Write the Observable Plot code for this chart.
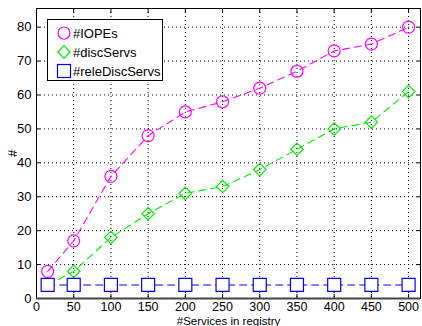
<!DOCTYPE html>
<html><head><meta charset="utf-8">
<script src="https://cdn.jsdelivr.net/npm/d3@7"></script>
<script src="https://cdn.jsdelivr.net/npm/@observablehq/plot@0.6"></script>
<style>
body{margin:0;background:#fff;font-family:"Liberation Sans",Arial,sans-serif;}
#wrap{position:relative;width:422px;height:326px;}
#legend{position:absolute;left:47px;top:19px;width:114px;height:60px;background:#fff;border:1px solid #000;font-size:13px;}
#legend .row{position:absolute;left:8px;height:14px;display:flex;align-items:center;}
#legend svg{width:16px;height:16px;margin-right:1px;overflow:visible}
</style></head><body>
<div id="wrap"></div>
<script>
const services = [15, 50, 100, 150, 200, 250, 300, 350, 400, 450, 500];
const iopes = [8, 17, 36, 48, 55, 58, 62, 67, 73, 75, 80];
const discServs = [4, 8, 18, 25, 31, 33, 38, 44, 50, 52, 61];
const releDiscServs = [4, 4, 4, 4, 4, 4, 4, 4, 4, 4, 4];
const seriesNames = ["#IOPEs", "#discServs", "#releDiscServs"];
const xTicks = [0, 50, 100, 150, 200, 250, 300, 350, 400, 450, 500];
const yTicks = [0, 10, 20, 30, 40, 50, 60, 70, 80];

const colors = ["#ff00ff", "#00ee00", "#0000ff"];
const half = size => Math.sqrt(size / Math.PI);
const circleSym = {draw(ctx, size){const r = half(size); ctx.moveTo(r,0); ctx.arc(0,0,r,0,2*Math.PI); ctx.closePath();}};
const diamondSym = {draw(ctx, size){const r = half(size); ctx.moveTo(0,-r); ctx.lineTo(r,0); ctx.lineTo(0,r); ctx.lineTo(-r,0); ctx.closePath();}};
const squareSym = {draw(ctx, size){const r = half(size); ctx.rect(-r,-r,2*r,2*r);}};
const syms = [circleSym, diamondSym, squareSym];
const radii = [6, 6.2, 6.5];
const fills = ["none", "none", "#fff"];

const allSeries = [iopes, discServs, releDiscServs];
const table = allSeries.flatMap((vals, s) => vals.map((v, i) => ({x: services[i], y: v, s})));

const marks = [
  Plot.gridX(xTicks, {stroke: "#000", strokeOpacity: 1, strokeDasharray: "1,3"}),
  Plot.gridY(yTicks, {stroke: "#000", strokeOpacity: 1, strokeDasharray: "1,3"}),
  Plot.axisX(xTicks, {anchor: "bottom", tickSize: 0, tickPadding: 4, fontSize: 12.5, label: null}),
  Plot.axisX({anchor: "bottom", ticks: [], tickSize: 0, label: "#Services in registry", labelAnchor: "center", labelArrow: "none", labelOffset: 26.5, fontSize: 11.5}),
  Plot.axisY(yTicks, {anchor: "left", tickSize: 0, tickPadding: 5, fontSize: 13, label: "#", labelAnchor: "center", labelArrow: "none", labelOffset: 29}),
  Plot.axisX(xTicks, {anchor: "bottom", tickSize: -4, text: null, label: null}),
  Plot.axisX(xTicks, {anchor: "top", tickSize: -4, text: null, label: null}),
  Plot.axisY(yTicks, {anchor: "left", tickSize: -4, text: null, label: null}),
  Plot.axisY(yTicks, {anchor: "right", tickSize: -4, text: null, label: null}),
];
allSeries.forEach((vals, s) => {
  const d = table.filter(r => r.s === s);
  marks.push(Plot.line(d, {x: "x", y: "y", stroke: colors[s], strokeWidth: 1.1, strokeDasharray: "7,5"}));
});
allSeries.forEach((vals, s) => {
  const d = table.filter(r => r.s === s);
  marks.push(Plot.dot(d, {x: "x", y: "y", stroke: colors[s], fill: fills[s], strokeWidth: 1.2, r: radii[s], symbol: syms[s]}));
});
marks.push(Plot.frame({stroke: "#000"}));
marks.push(Plot.ruleY([0], {stroke: "#444", strokeWidth: 2}));

const chart = Plot.plot({
  width: 422, height: 326,
  marginTop: 8, marginRight: 2, marginBottom: 28, marginLeft: 36,
  style: {fontFamily: "Liberation Sans, Arial, sans-serif", fontSize: "13px", color: "#000", background: "#fff"},
  x: {domain: [0, 516]},
  y: {domain: [0, 85.5]},
  marks
});
const wrap = document.getElementById("wrap");
wrap.appendChild(chart);

// legend
const leg = document.createElement("div");
leg.id = "legend";
const shapes = [
  `<circle cx="8" cy="8" r="6" fill="none" stroke="${colors[0]}" stroke-width="1.2"/>`,
  `<path d="M8,1.8L14.2,8L8,14.2L1.8,8Z" fill="none" stroke="${colors[1]}" stroke-width="1.2"/>`,
  `<rect x="1.5" y="1.5" width="13" height="13" fill="none" stroke="${colors[2]}" stroke-width="1.2"/>`
];
seriesNames.forEach((n, i) => {
  const row = document.createElement("div");
  row.className = "row";
  row.style.top = (6 + i * 19) + "px";
  row.innerHTML = `<svg viewBox="0 0 16 16">${shapes[i]}</svg><span>${n}</span>`;
  leg.appendChild(row);
});
wrap.appendChild(leg);
</script>
</body></html>
